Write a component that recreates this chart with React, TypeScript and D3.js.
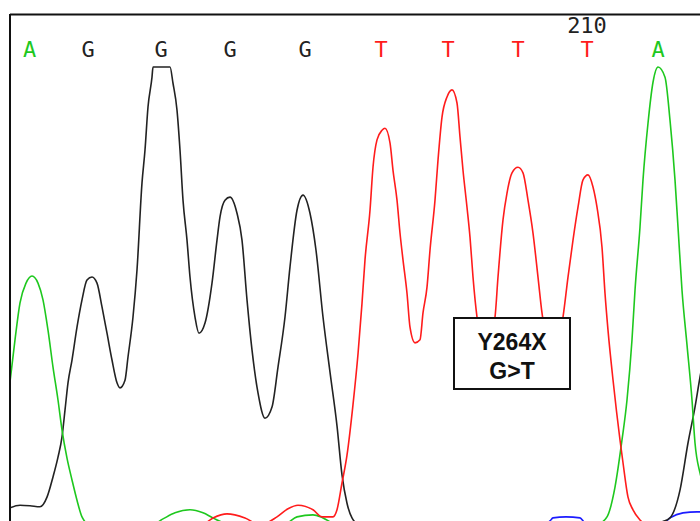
import React from 'react'
import * as d3 from 'd3'

// called bases and the scan where each one sits
const baseCalls = ['A', 'G', 'G', 'G', 'G', 'T', 'T', 'T', 'T', 'A']
const baseScans = [19.5, 78, 151, 220, 295, 371, 438, 508, 577, 648]
const positionLabel = '210'
const positionIndex = 8
const mutationLines = ['Y264X', 'G>T']

// trace samples: [scan, signal]
const traceA: [number, number][] = [
  [0, 285], [5, 368], [10, 441], [16, 480], [22, 494], [28, 480], [33, 447], [38, 387],
  [43, 314], [48, 249], [52, 190], [57, 134], [62, 91], [67, 51], [72, 18], [80, 2],
  [100, 0], [140, 0], [153, 14], [165, 26], [180, 32], [193, 26], [203, 16], [215, 6],
  [250, 0], [275, 4], [287, 18], [303, 22], [313, 16], [325, 4], [350, 0], [570, 0],
  [588, 4], [597, 18], [605, 77], [612, 170], [617, 249], [622, 368], [625, 466],
  [630, 591], [633, 684], [638, 796], [643, 877], [648, 907], [655, 887], [660, 802],
  [665, 684], [668, 591], [672, 466], [677, 358], [682, 249], [685, 164], [690, 105],
  [700, 61]
]

const traceG: [number, number][] = [
  [0, 36], [10, 41], [20, 40], [30, 38], [37, 57], [43, 97], [48, 136], [52, 176],
  [55, 229], [58, 283], [62, 328], [67, 393], [72, 447], [77, 486], [82, 492], [87, 480],
  [92, 433], [97, 381], [102, 328], [107, 283], [110, 273], [115, 288], [118, 334],
  [123, 413], [127, 506], [132, 678], [135, 743], [138, 828], [142, 887], [143, 907],
  [151, 907], [160, 907], [163, 875], [167, 822], [170, 743], [173, 644], [177, 565],
  [180, 492], [185, 413], [189, 381], [195, 401], [202, 480], [207, 565], [210, 611],
  [215, 644], [220, 650], [227, 618], [232, 565], [237, 447], [242, 348], [248, 263],
  [255, 213], [262, 235], [268, 314], [275, 413], [280, 512], [287, 624], [293, 654],
  [300, 618], [306, 545], [313, 413], [320, 304], [327, 198], [332, 101], [337, 45],
  [342, 16], [350, 2], [370, 0], [640, 0], [652, 8], [660, 16], [670, 71], [678, 164],
  [685, 235], [690, 294], [700, 387]
]

const traceT: [number, number][] = [
  [0, 0], [190, 0], [203, 16], [217, 24], [235, 16], [250, 2], [267, 18], [278, 34],
  [288, 41], [303, 32], [312, 18], [323, 18], [327, 32], [332, 85], [337, 140],
  [343, 240], [348, 340], [352, 440], [355, 526], [360, 624], [363, 709], [367, 763],
  [372, 782], [375, 786], [380, 757], [383, 703], [387, 644], [390, 579], [393, 526],
  [397, 460], [400, 393], [405, 362], [410, 368], [413, 421], [417, 472], [420, 545],
  [425, 644], [428, 723], [432, 808], [437, 848], [442, 862], [447, 836], [450, 769],
  [453, 703], [457, 630], [460, 571], [463, 492], [467, 413], [476, 344], [485, 413],
  [488, 492], [493, 605], [497, 658], [502, 698], [508, 709], [513, 698], [518, 644],
  [523, 579], [528, 492], [532, 421], [542, 338], [553, 413], [558, 492], [563, 565],
  [568, 630], [573, 684], [578, 694], [583, 670], [587, 630], [592, 551], [595, 460],
  [598, 387], [603, 289], [610, 170], [613, 125], [618, 57], [623, 32], [630, 12],
  [640, 0], [700, 0]
]

const traceC: [number, number][] = [
  [0, 0], [530, 0], [540, 10], [543, 16], [556, 18], [570, 16], [574, 8], [585, 0],
  [650, 0], [660, 16], [673, 26], [687, 28], [700, 26]
]

const colors = { A: '#1ec81e', C: '#1c1cff', G: '#222222', T: '#ff1c1c' }

export default function App() {
  const W = 700
  const H = 521

  const x = d3.scaleLinear().domain([0, 690]).range([10, 700])
  const y = d3.scaleLinear().domain([0, 1000]).range([526, 20])

  const line = d3.line<[number, number]>()
    .x(d => x(d[0]))
    .y(d => y(d[1]))
    .curve(d3.curveMonotoneX)

  const traces: [string, [number, number][]][] = [
    ['C', traceC], ['G', traceG], ['A', traceA], ['T', traceT]
  ]

  return (
    <svg width={W} height={H} style={{ position: 'absolute', left: 0, top: 0, background: '#fff' }}>
      <defs>
        <clipPath id="plot">
          <rect x={10} y={14} width={W} height={H} />
        </clipPath>
      </defs>
      <rect x={0} y={0} width={W} height={H} fill="#fff" />

      <g clipPath="url(#plot)">
        {traces.map(([base, pts]) => (
          <path key={base} d={line(pts) || ''} fill="none"
            stroke={(colors as any)[base]} strokeWidth={1.6} />
        ))}
      </g>

      {/* frame */}
      <line x1={10} y1={14.5} x2={W} y2={14.5} stroke="#111" strokeWidth={2} />
      <line x1={10} y1={14} x2={10} y2={H} stroke="#111" strokeWidth={2} />

      {/* base calls */}
      {baseCalls.map((b, i) => (
        <text key={i} x={x(baseScans[i])} y={57} textAnchor="middle"
          fontFamily="DejaVu Sans Mono" fontSize={22} fill={(colors as any)[b]}>{b}</text>
      ))}
      <text x={x(baseScans[positionIndex])} y={33} textAnchor="middle"
        fontFamily="DejaVu Sans Mono" fontSize={22} fill="#222">{positionLabel}</text>

      {/* mutation box */}
      <rect x={454} y={318} width={116} height={71} fill="#fff" stroke="#111" strokeWidth={2} />
      {mutationLines.map((t, i) => (
        <text key={t} x={512} y={350 + i * 29} textAnchor="middle"
          fontFamily="Liberation Sans, Arial, sans-serif" fontWeight="bold" fontSize={23} fill="#111">{t}</text>
      ))}
    </svg>
  )
}
